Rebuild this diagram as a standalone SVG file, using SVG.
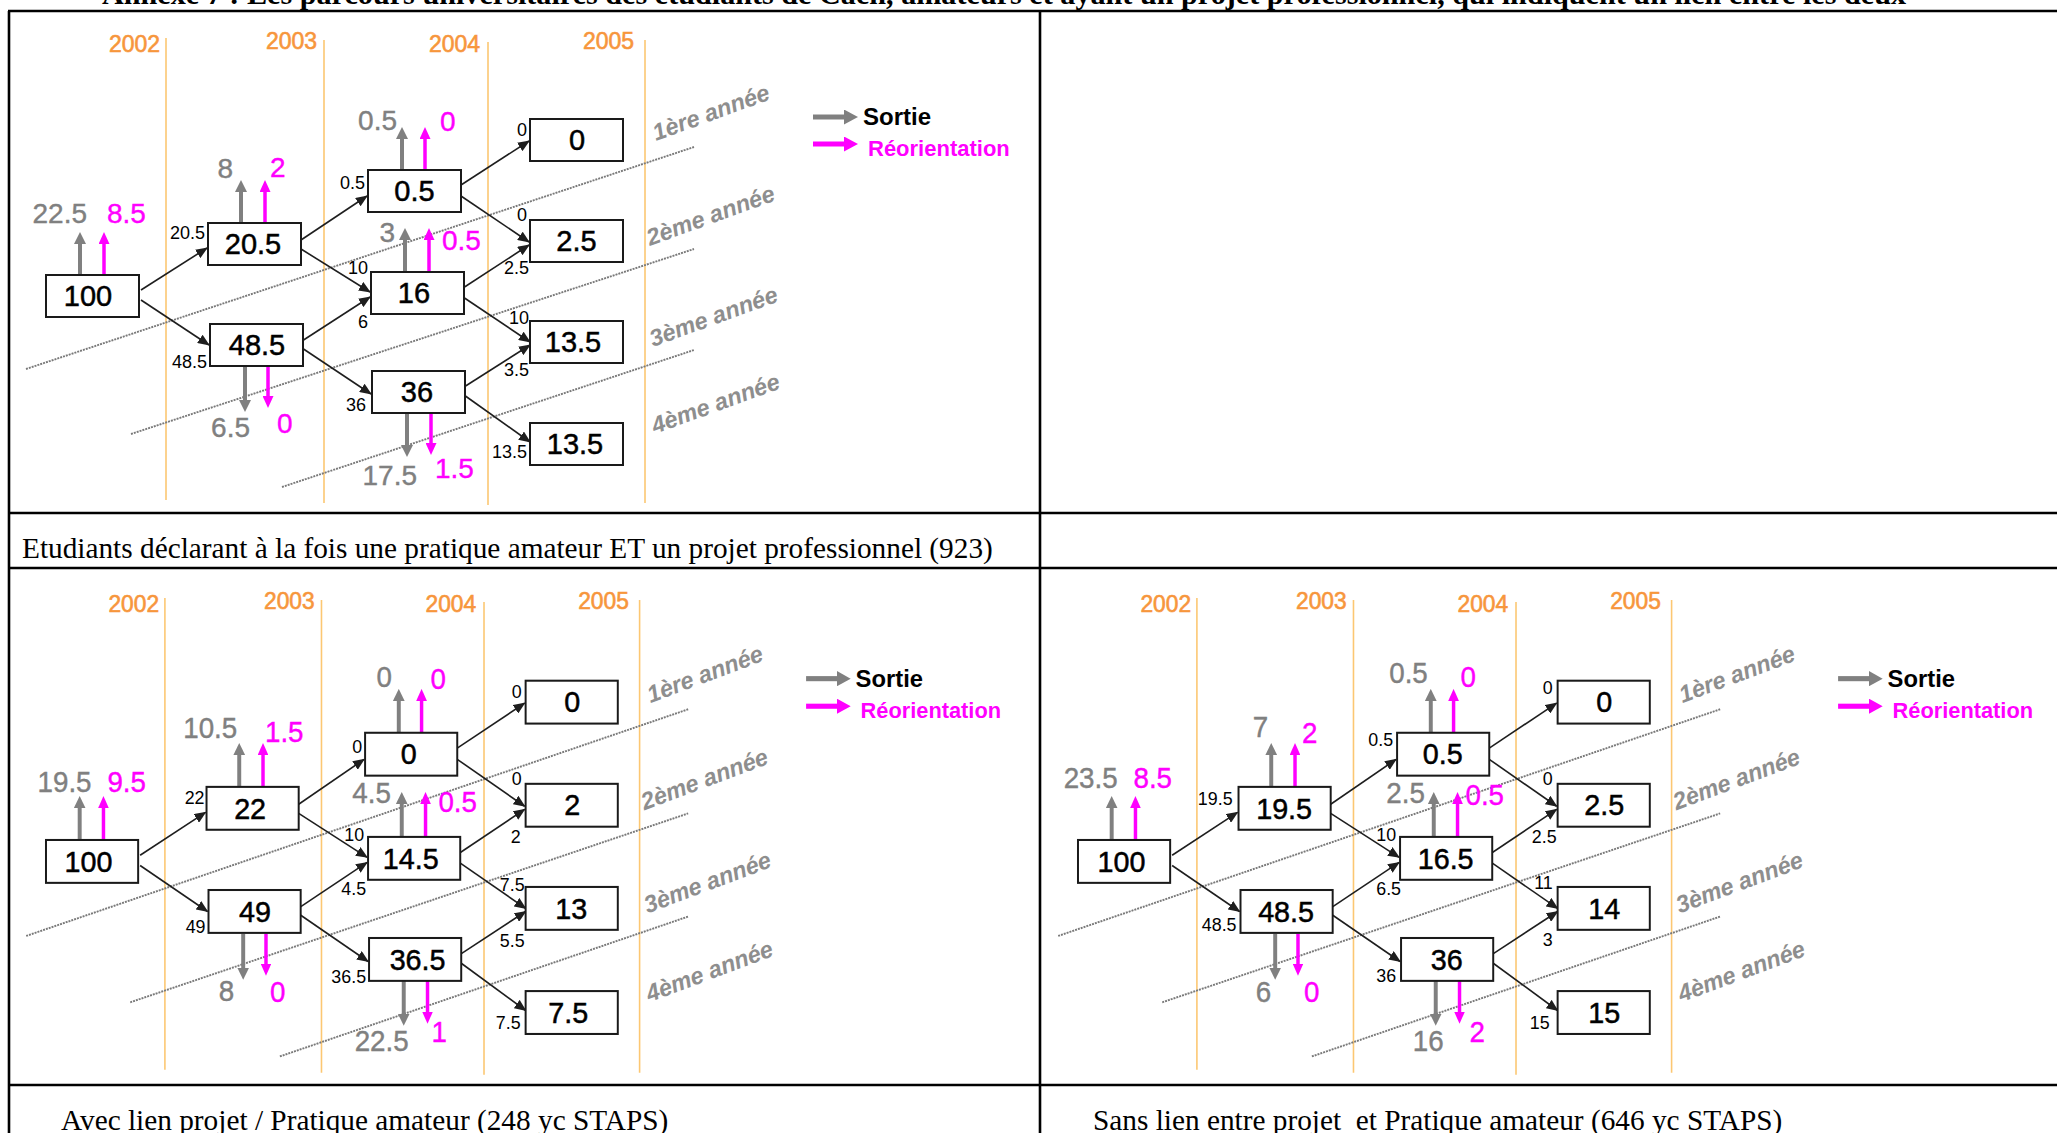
<svg xmlns="http://www.w3.org/2000/svg" width="2057" height="1133" viewBox="0 0 2057 1133">
<style>
.tl{stroke:#000;stroke-width:2.6;fill:none}
.tt{font-family:"Liberation Serif","Times New Roman",serif;font-size:29.3px;fill:#000}
.yr{font-family:"Liberation Sans",Arial,sans-serif;font-size:23px;fill:#f7963c;stroke:#f7963c;stroke-width:0.6}
.yl{stroke:#fcc772;stroke-width:1.6}
.dl{stroke:#7a7a7a;stroke-width:1.9;stroke-dasharray:2 1;fill:none}
.an{font-family:"Liberation Sans",Arial,sans-serif;font-size:23.5px;font-style:italic;font-weight:bold;fill:#8e8e8e}
.box{fill:#fff;stroke:#1a1a1a;stroke-width:2}
.bv{font-family:"Liberation Sans",Arial,sans-serif;font-size:29px;fill:#000;stroke:#000;stroke-width:0.5;text-anchor:middle}
.cn{stroke:#1e1e1e;stroke-width:1.6;marker-end:url(#ah)}
.sl{font-family:"Liberation Sans",Arial,sans-serif;font-size:18px;fill:#000;text-anchor:end}
.ga{stroke:#808080;stroke-width:4;marker-end:url(#gh)}
.ma{stroke:#ff00ff;stroke-width:3.5;marker-end:url(#mh)}
.gv{font-family:"Liberation Sans",Arial,sans-serif;font-size:28px;fill:#808080;stroke:#808080;stroke-width:0.4;text-anchor:end}
.mv{font-family:"Liberation Sans",Arial,sans-serif;font-size:28px;fill:#ff00ff;stroke:#ff00ff;stroke-width:0.4}
.lga{stroke:#808080;stroke-width:5;marker-end:url(#lgh)}
.lma{stroke:#ff00ff;stroke-width:5;marker-end:url(#lmh)}
.ls{font-family:"Liberation Sans",Arial,sans-serif;font-size:24px;font-weight:bold;fill:#000}
.lr{font-family:"Liberation Sans",Arial,sans-serif;font-size:22px;font-weight:bold;fill:#ff00ff}
</style>
<defs>
<marker id="ah" markerUnits="userSpaceOnUse" viewBox="0 0 12 10" markerWidth="12" markerHeight="10" refX="11" refY="5" orient="auto"><path d="M0,0 L12,5 L0,10 z" fill="#1e1e1e"/></marker>
<marker id="gh" markerUnits="userSpaceOnUse" viewBox="0 0 12 12" markerWidth="12" markerHeight="12" refX="1" refY="6" orient="auto"><path d="M0,0 L12,6 L0,12 z" fill="#808080"/></marker>
<marker id="mh" markerUnits="userSpaceOnUse" viewBox="0 0 12 11" markerWidth="12" markerHeight="11" refX="1" refY="5.5" orient="auto"><path d="M0,0 L12,5.5 L0,11 z" fill="#ff00ff"/></marker>
<marker id="lgh" markerUnits="userSpaceOnUse" viewBox="0 0 14 15" markerWidth="14" markerHeight="15" refX="1" refY="7.5" orient="auto"><path d="M0,0 L14,7.5 L0,15 z" fill="#808080"/></marker>
<marker id="lmh" markerUnits="userSpaceOnUse" viewBox="0 0 14 15" markerWidth="14" markerHeight="15" refX="1" refY="7.5" orient="auto"><path d="M0,0 L14,7.5 L0,15 z" fill="#ff00ff"/></marker>
</defs>
<rect width="2057" height="1133" fill="#fff"/>

<g id="page">
<text class="tt" x="102" y="4" font-weight="bold" textLength="1804" lengthAdjust="spacingAndGlyphs">Annexe 7 : Les parcours universitaires des étudiants de Caen, amateurs et ayant un projet professionnel, qui indiquent un lien entre les deux</text>
<line class="tl" x1="8" y1="11" x2="2057" y2="11"/>
<line class="tl" x1="9" y1="11" x2="9" y2="1133"/>
<line class="tl" x1="1040" y1="11" x2="1040" y2="1133"/>
<line class="tl" x1="8" y1="513" x2="2057" y2="513"/>
<line class="tl" x1="8" y1="568" x2="2057" y2="568"/>
<line class="tl" x1="8" y1="1085" x2="2057" y2="1085"/>
<text class="tt" x="22" y="558">Etudiants déclarant à la fois une pratique amateur ET un projet professionnel (923)</text>
<text class="tt" x="61" y="1130" font-size="29.8">Avec lien projet / Pratique amateur (248 yc STAPS)</text>
<text class="tt" x="1093" y="1130" font-size="29.8" xml:space="preserve">Sans lien entre projet  et Pratique amateur (646 yc STAPS)</text>
</g>

<!-- PANEL 1 -->
<g id="panel1">
 <g id="p1-axes">
  <text class="yr" x="109" y="52">2002</text>
  <text class="yr" x="266" y="49">2003</text>
  <text class="yr" x="429" y="52">2004</text>
  <text class="yr" x="583" y="49">2005</text>
  <line class="yl" x1="166" y1="38" x2="166" y2="500"/>
  <line class="yl" x1="324" y1="40" x2="324" y2="503"/>
  <line class="yl" x1="488" y1="42" x2="488" y2="505"/>
  <line class="yl" x1="645" y1="40" x2="645" y2="503"/>
  <line class="dl" x1="26" y1="369" x2="694" y2="147"/>
  <line class="dl" x1="131" y1="434" x2="694" y2="249"/>
  <line class="dl" x1="282" y1="487" x2="694" y2="350"/>
  <text class="an" transform="translate(656,141) rotate(-20)">1ère année</text>
  <text class="an" transform="translate(650,246) rotate(-20)">2ème année</text>
  <text class="an" transform="translate(653,347) rotate(-20)">3ème année</text>
  <text class="an" transform="translate(655,434) rotate(-20)">4ème année</text>
 </g>
 <g id="p1-connectors">
  <line class="cn" x1="141" y1="290" x2="207" y2="248"/>
  <line class="cn" x1="141" y1="300" x2="209" y2="345"/>
  <line class="cn" x1="301" y1="240" x2="367" y2="196"/>
  <line class="cn" x1="301" y1="249" x2="370" y2="292"/>
  <line class="cn" x1="302" y1="341" x2="370" y2="297"/>
  <line class="cn" x1="302" y1="348" x2="371" y2="394"/>
  <line class="cn" x1="461" y1="185" x2="529" y2="141"/>
  <line class="cn" x1="461" y1="196" x2="529" y2="242"/>
  <line class="cn" x1="463" y1="288" x2="529" y2="245"/>
  <line class="cn" x1="463" y1="297" x2="530" y2="342"/>
  <line class="cn" x1="464" y1="387" x2="530" y2="345"/>
  <line class="cn" x1="464" y1="395" x2="530" y2="442"/>
  <text class="sl" x="205" y="239">20.5</text>
  <text class="sl" x="207" y="368">48.5</text>
  <text class="sl" x="365" y="189">0.5</text>
  <text class="sl" x="368" y="274">10</text>
  <text class="sl" x="368" y="328">6</text>
  <text class="sl" x="366" y="411">36</text>
  <text class="sl" x="527" y="136">0</text>
  <text class="sl" x="527" y="221">0</text>
  <text class="sl" x="529" y="274">2.5</text>
  <text class="sl" x="529" y="324">10</text>
  <text class="sl" x="529" y="376">3.5</text>
  <text class="sl" x="527" y="458">13.5</text>
 </g>
 <g id="p1-exits">
  <line class="ga" x1="80" y1="275" x2="80" y2="243"/>
  <line class="ma" x1="104" y1="275" x2="104" y2="243"/>
  <line class="ga" x1="241" y1="223" x2="241" y2="191"/>
  <line class="ma" x1="265" y1="223" x2="265" y2="191"/>
  <line class="ga" x1="245" y1="367" x2="245" y2="401"/>
  <line class="ma" x1="268" y1="367" x2="268" y2="397"/>
  <line class="ga" x1="402" y1="170" x2="402" y2="138"/>
  <line class="ma" x1="425" y1="170" x2="425" y2="138"/>
  <line class="ga" x1="405" y1="272" x2="405" y2="239"/>
  <line class="ma" x1="429" y1="272" x2="429" y2="239"/>
  <line class="ga" x1="407" y1="413" x2="407" y2="446"/>
  <line class="ma" x1="431" y1="413" x2="431" y2="444"/>
  <text class="gv" x="87" y="223">22.5</text>
  <text class="mv" x="107" y="223">8.5</text>
  <text class="gv" x="233" y="178">8</text>
  <text class="mv" x="270" y="177">2</text>
  <text class="gv" x="250" y="437">6.5</text>
  <text class="mv" x="277" y="433">0</text>
  <text class="gv" x="397" y="130">0.5</text>
  <text class="mv" x="440" y="131">0</text>
  <text class="gv" x="395" y="242">3</text>
  <text class="mv" x="442" y="250">0.5</text>
  <text class="gv" x="417" y="485">17.5</text>
  <text class="mv" x="435" y="478">1.5</text>
 </g>
 <g id="p1-n100"><rect class="box" x="46" y="275" width="93" height="42"/><text class="bv" x="88" y="306">100</text></g>
 <g id="p1-n2003a"><rect class="box" x="208" y="223" width="93" height="42"/><text class="bv" x="253" y="254">20.5</text></g>
 <g id="p1-n2003b"><rect class="box" x="210" y="324" width="93" height="42"/><text class="bv" x="257" y="355">48.5</text></g>
 <g id="p1-n2004a"><rect class="box" x="368" y="170" width="93" height="42"/><text class="bv" x="414.5" y="201">0.5</text></g>
 <g id="p1-n2004b"><rect class="box" x="371" y="272" width="93" height="42"/><text class="bv" x="414" y="303">16</text></g>
 <g id="p1-n2004c"><rect class="box" x="372" y="371" width="93" height="42"/><text class="bv" x="417" y="402">36</text></g>
 <g id="p1-n2005a"><rect class="box" x="530" y="119" width="93" height="42"/><text class="bv" x="577" y="150">0</text></g>
 <g id="p1-n2005b"><rect class="box" x="530" y="220" width="93" height="42"/><text class="bv" x="576.5" y="251">2.5</text></g>
 <g id="p1-n2005c"><rect class="box" x="530" y="321" width="93" height="42"/><text class="bv" x="573" y="352">13.5</text></g>
 <g id="p1-n2005d"><rect class="box" x="530" y="423" width="93" height="42"/><text class="bv" x="575" y="454">13.5</text></g>
 <g id="p1-legend">
  <line class="lga" x1="813" y1="117" x2="845" y2="117"/>
  <line class="lma" x1="813" y1="144" x2="845" y2="144"/>
  <text class="ls" x="863" y="125">Sortie</text>
  <text class="lr" x="868" y="156">Réorientation</text>
 </g>
</g>

<!-- PANEL 2 -->
<g id="panel2" transform="translate(0.4,559.2) scale(0.991,1.021)">
 <g id="p2-axes">
  <text class="yr" x="109" y="52">2002</text>
  <text class="yr" x="266" y="49">2003</text>
  <text class="yr" x="429" y="52">2004</text>
  <text class="yr" x="583" y="49">2005</text>
  <line class="yl" x1="166" y1="38" x2="166" y2="500"/>
  <line class="yl" x1="324" y1="40" x2="324" y2="503"/>
  <line class="yl" x1="488" y1="42" x2="488" y2="505"/>
  <line class="yl" x1="645" y1="40" x2="645" y2="503"/>
  <line class="dl" x1="26" y1="369" x2="694" y2="147"/>
  <line class="dl" x1="131" y1="434" x2="694" y2="249"/>
  <line class="dl" x1="282" y1="487" x2="694" y2="350"/>
  <text class="an" transform="translate(656,141) rotate(-20)">1ère année</text>
  <text class="an" transform="translate(650,246) rotate(-20)">2ème année</text>
  <text class="an" transform="translate(653,347) rotate(-20)">3ème année</text>
  <text class="an" transform="translate(655,434) rotate(-20)">4ème année</text>
 </g>
 <g id="p2-connectors">
  <line class="cn" x1="141" y1="290" x2="207" y2="248"/>
  <line class="cn" x1="141" y1="300" x2="209" y2="345"/>
  <line class="cn" x1="301" y1="240" x2="367" y2="196"/>
  <line class="cn" x1="301" y1="249" x2="370" y2="292"/>
  <line class="cn" x1="302" y1="341" x2="370" y2="297"/>
  <line class="cn" x1="302" y1="348" x2="371" y2="394"/>
  <line class="cn" x1="461" y1="185" x2="529" y2="141"/>
  <line class="cn" x1="461" y1="196" x2="529" y2="242"/>
  <line class="cn" x1="463" y1="288" x2="529" y2="245"/>
  <line class="cn" x1="463" y1="297" x2="530" y2="342"/>
  <line class="cn" x1="464" y1="387" x2="530" y2="345"/>
  <line class="cn" x1="464" y1="395" x2="530" y2="442"/>
  <text class="sl" x="206" y="240">22</text>
  <text class="sl" x="207" y="366">49</text>
  <text class="sl" x="365" y="190">0</text>
  <text class="sl" x="367" y="276">10</text>
  <text class="sl" x="369" y="329">4.5</text>
  <text class="sl" x="369" y="415">36.5</text>
  <text class="sl" x="526" y="136">0</text>
  <text class="sl" x="526" y="221">0</text>
  <text class="sl" x="525" y="278">2</text>
  <text class="sl" x="529" y="325">7.5</text>
  <text class="sl" x="529" y="380">5.5</text>
  <text class="sl" x="525" y="460">7.5</text>
 </g>
 <g id="p2-exits">
  <line class="ga" x1="80" y1="275" x2="80" y2="243"/>
  <line class="ma" x1="104" y1="275" x2="104" y2="243"/>
  <line class="ga" x1="241" y1="223" x2="241" y2="191"/>
  <line class="ma" x1="265" y1="223" x2="265" y2="191"/>
  <line class="ga" x1="245" y1="367" x2="245" y2="401"/>
  <line class="ma" x1="268" y1="367" x2="268" y2="397"/>
  <line class="ga" x1="402" y1="170" x2="402" y2="138"/>
  <line class="ma" x1="425" y1="170" x2="425" y2="138"/>
  <line class="ga" x1="405" y1="272" x2="405" y2="239"/>
  <line class="ma" x1="429" y1="272" x2="429" y2="239"/>
  <line class="ga" x1="407" y1="413" x2="407" y2="446"/>
  <line class="ma" x1="431" y1="413" x2="431" y2="444"/>
  <text class="gv" x="92" y="228">19.5</text>
  <text class="mv" x="108" y="228">9.5</text>
  <text class="gv" x="239" y="175">10.5</text>
  <text class="mv" x="267" y="179">1.5</text>
  <text class="gv" x="236" y="433">8</text>
  <text class="mv" x="272" y="434">0</text>
  <text class="gv" x="395" y="125">0</text>
  <text class="mv" x="434" y="127">0</text>
  <text class="gv" x="394" y="239">4.5</text>
  <text class="mv" x="442" y="248">0.5</text>
  <text class="gv" x="412" y="482">22.5</text>
  <text class="mv" x="435" y="473">1</text>
 </g>
 <g id="p2-n100"><rect class="box" x="46" y="275" width="93" height="42"/><text class="bv" x="89" y="306">100</text></g>
 <g id="p2-n2003a"><rect class="box" x="208" y="223" width="93" height="42"/><text class="bv" x="252" y="254">22</text></g>
 <g id="p2-n2003b"><rect class="box" x="210" y="324" width="93" height="42"/><text class="bv" x="257" y="355">49</text></g>
 <g id="p2-n2004a"><rect class="box" x="368" y="170" width="93" height="42"/><text class="bv" x="412" y="201">0</text></g>
 <g id="p2-n2004b"><rect class="box" x="371" y="272" width="93" height="42"/><text class="bv" x="414" y="303">14.5</text></g>
 <g id="p2-n2004c"><rect class="box" x="372" y="371" width="93" height="42"/><text class="bv" x="421" y="402">36.5</text></g>
 <g id="p2-n2005a"><rect class="box" x="530" y="119" width="93" height="42"/><text class="bv" x="577" y="150">0</text></g>
 <g id="p2-n2005b"><rect class="box" x="530" y="220" width="93" height="42"/><text class="bv" x="577" y="251">2</text></g>
 <g id="p2-n2005c"><rect class="box" x="530" y="321" width="93" height="42"/><text class="bv" x="576" y="352">13</text></g>
 <g id="p2-n2005d"><rect class="box" x="530" y="423" width="93" height="42"/><text class="bv" x="573" y="454">7.5</text></g>
 <g id="p2-legend">
  <line class="lga" x1="813" y1="117" x2="845" y2="117"/>
  <line class="lma" x1="813" y1="144" x2="845" y2="144"/>
  <text class="ls" x="863" y="125">Sortie</text>
  <text class="lr" x="868" y="156">Réorientation</text>
 </g>
</g>

<!-- PANEL 3 -->
<g id="panel3" transform="translate(1032.4,559.2) scale(0.991,1.021)">
 <g id="p3-axes">
  <text class="yr" x="109" y="52">2002</text>
  <text class="yr" x="266" y="49">2003</text>
  <text class="yr" x="429" y="52">2004</text>
  <text class="yr" x="583" y="49">2005</text>
  <line class="yl" x1="166" y1="38" x2="166" y2="500"/>
  <line class="yl" x1="324" y1="40" x2="324" y2="503"/>
  <line class="yl" x1="488" y1="42" x2="488" y2="505"/>
  <line class="yl" x1="645" y1="40" x2="645" y2="503"/>
  <line class="dl" x1="26" y1="369" x2="694" y2="147"/>
  <line class="dl" x1="131" y1="434" x2="694" y2="249"/>
  <line class="dl" x1="282" y1="487" x2="694" y2="350"/>
  <text class="an" transform="translate(656,141) rotate(-20)">1ère année</text>
  <text class="an" transform="translate(650,246) rotate(-20)">2ème année</text>
  <text class="an" transform="translate(653,347) rotate(-20)">3ème année</text>
  <text class="an" transform="translate(655,434) rotate(-20)">4ème année</text>
 </g>
 <g id="p3-connectors">
  <line class="cn" x1="141" y1="290" x2="207" y2="248"/>
  <line class="cn" x1="141" y1="300" x2="209" y2="345"/>
  <line class="cn" x1="301" y1="240" x2="367" y2="196"/>
  <line class="cn" x1="301" y1="249" x2="370" y2="292"/>
  <line class="cn" x1="302" y1="341" x2="370" y2="297"/>
  <line class="cn" x1="302" y1="348" x2="371" y2="394"/>
  <line class="cn" x1="461" y1="185" x2="529" y2="141"/>
  <line class="cn" x1="461" y1="196" x2="529" y2="242"/>
  <line class="cn" x1="463" y1="288" x2="529" y2="245"/>
  <line class="cn" x1="463" y1="297" x2="530" y2="342"/>
  <line class="cn" x1="464" y1="387" x2="530" y2="345"/>
  <line class="cn" x1="464" y1="395" x2="530" y2="442"/>
  <text class="sl" x="202" y="241">19.5</text>
  <text class="sl" x="206" y="364">48.5</text>
  <text class="sl" x="364" y="183">0.5</text>
  <text class="sl" x="367" y="276">10</text>
  <text class="sl" x="372" y="329">6.5</text>
  <text class="sl" x="367" y="414">36</text>
  <text class="sl" x="525" y="132">0</text>
  <text class="sl" x="525" y="221">0</text>
  <text class="sl" x="529" y="278">2.5</text>
  <text class="sl" x="525" y="323">11</text>
  <text class="sl" x="525" y="379">3</text>
  <text class="sl" x="522" y="460">15</text>
 </g>
 <g id="p3-exits">
  <line class="ga" x1="80" y1="275" x2="80" y2="243"/>
  <line class="ma" x1="104" y1="275" x2="104" y2="243"/>
  <line class="ga" x1="241" y1="223" x2="241" y2="191"/>
  <line class="ma" x1="265" y1="223" x2="265" y2="191"/>
  <line class="ga" x1="245" y1="367" x2="245" y2="401"/>
  <line class="ma" x1="268" y1="367" x2="268" y2="397"/>
  <line class="ga" x1="402" y1="170" x2="402" y2="138"/>
  <line class="ma" x1="425" y1="170" x2="425" y2="138"/>
  <line class="ga" x1="405" y1="272" x2="405" y2="239"/>
  <line class="ma" x1="429" y1="272" x2="429" y2="239"/>
  <line class="ga" x1="407" y1="413" x2="407" y2="446"/>
  <line class="ma" x1="431" y1="413" x2="431" y2="444"/>
  <text class="gv" x="86" y="224">23.5</text>
  <text class="mv" x="102" y="224">8.5</text>
  <text class="gv" x="238" y="174">7</text>
  <text class="mv" x="272" y="180">2</text>
  <text class="gv" x="241" y="434">6</text>
  <text class="mv" x="274" y="434">0</text>
  <text class="gv" x="399" y="121">0.5</text>
  <text class="mv" x="432" y="125">0</text>
  <text class="gv" x="396" y="239">2.5</text>
  <text class="mv" x="437" y="241">0.5</text>
  <text class="gv" x="415" y="482">16</text>
  <text class="mv" x="441" y="473">2</text>
 </g>
 <g id="p3-n100"><rect class="box" x="46" y="275" width="93" height="42"/><text class="bv" x="90" y="306">100</text></g>
 <g id="p3-n2003a"><rect class="box" x="208" y="223" width="93" height="42"/><text class="bv" x="254" y="254">19.5</text></g>
 <g id="p3-n2003b"><rect class="box" x="210" y="324" width="93" height="42"/><text class="bv" x="256" y="355">48.5</text></g>
 <g id="p3-n2004a"><rect class="box" x="368" y="170" width="93" height="42"/><text class="bv" x="414" y="201">0.5</text></g>
 <g id="p3-n2004b"><rect class="box" x="371" y="272" width="93" height="42"/><text class="bv" x="417" y="303">16.5</text></g>
 <g id="p3-n2004c"><rect class="box" x="372" y="371" width="93" height="42"/><text class="bv" x="418" y="402">36</text></g>
 <g id="p3-n2005a"><rect class="box" x="530" y="119" width="93" height="42"/><text class="bv" x="577" y="150">0</text></g>
 <g id="p3-n2005b"><rect class="box" x="530" y="220" width="93" height="42"/><text class="bv" x="577" y="251">2.5</text></g>
 <g id="p3-n2005c"><rect class="box" x="530" y="321" width="93" height="42"/><text class="bv" x="577" y="352">14</text></g>
 <g id="p3-n2005d"><rect class="box" x="530" y="423" width="93" height="42"/><text class="bv" x="577" y="454">15</text></g>
 <g id="p3-legend">
  <line class="lga" x1="813" y1="117" x2="845" y2="117"/>
  <line class="lma" x1="813" y1="144" x2="845" y2="144"/>
  <text class="ls" x="863" y="125">Sortie</text>
  <text class="lr" x="868" y="156">Réorientation</text>
 </g>
</g>
</svg>
